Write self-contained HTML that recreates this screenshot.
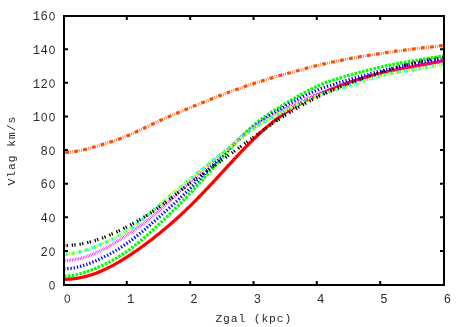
<!DOCTYPE html>
<html><head><meta charset="utf-8"><title>Vlag vs Zgal</title>
<style>
html,body{margin:0;padding:0;background:#fff;}
body{width:467px;height:327px;overflow:hidden;position:relative;font-family:"Liberation Mono",monospace;}
</style></head><body>
<svg width="467" height="327" viewBox="0 0 467 327" style="position:absolute;left:0;top:0;will-change:transform">
<rect width="467" height="327" fill="#fff"/>
<g fill="none" stroke-width="3.2" stroke-linecap="butt" stroke-linejoin="round">
<path d="M64.0 279.3 L66.0 279.3 L68.0 279.2 L70.0 279.1 L72.0 278.9 L74.0 278.7 L76.0 278.4 L78.0 278.1 L80.0 277.7 L82.0 277.3 L84.0 276.9 L86.0 276.4 L88.0 275.8 L90.0 275.2 L92.0 274.6 L94.0 273.9 L96.0 273.2 L98.0 272.4 L100.0 271.6 L102.0 270.7 L104.0 269.8 L106.0 268.9 L108.0 267.9 L110.0 266.9 L112.0 265.9 L114.0 264.8 L116.0 263.7 L118.0 262.5 L120.0 261.3 L122.0 260.1 L124.0 258.9 L126.0 257.7 L128.0 256.4 L130.0 255.1 L132.0 253.7 L134.0 252.4 L136.0 251.0 L138.0 249.6 L140.0 248.2 L142.0 246.8 L144.0 245.3 L146.0 243.8 L148.0 242.3 L150.0 240.8 L152.0 239.3 L154.0 237.7 L156.0 236.1 L158.0 234.5 L160.0 232.9 L162.0 231.2 L164.0 229.6 L166.0 227.9 L168.0 226.2 L170.0 224.5 L172.0 222.7 L174.0 221.0 L176.0 219.2 L178.0 217.4 L180.0 215.6 L182.0 213.7 L184.0 211.8 L186.0 209.9 L188.0 208.0 L190.0 206.1 L192.0 204.1 L194.0 202.1 L196.0 200.1 L198.0 198.0 L200.0 196.0 L202.0 193.9 L204.0 191.8 L206.0 189.7 L208.0 187.6 L210.0 185.4 L212.0 183.3 L214.0 181.1 L216.0 179.0 L218.0 176.8 L220.0 174.6 L222.0 172.5 L224.0 170.3 L226.0 168.1 L228.0 165.9 L230.0 163.8 L232.0 161.6 L234.0 159.4 L236.0 157.3 L238.0 155.2 L240.0 153.0 L242.0 150.9 L244.0 148.8 L246.0 146.8 L248.0 144.8 L250.0 142.7 L252.0 140.8 L254.0 138.8 L256.0 136.9 L258.0 135.0 L260.0 133.1 L262.0 131.3 L264.0 129.5 L266.0 127.8 L268.0 126.1 L270.0 124.4 L272.0 122.7 L274.0 121.1 L276.0 119.6 L278.0 118.1 L280.0 116.6 L282.0 115.1 L284.0 113.7 L286.0 112.4 L288.0 111.1 L290.0 109.8 L292.0 108.6 L294.0 107.4 L296.0 106.2 L298.0 105.1 L300.0 104.0 L302.0 102.9 L304.0 101.8 L306.0 100.8 L308.0 99.8 L310.0 98.9 L312.0 97.9 L314.0 96.9 L316.0 96.0 L318.0 95.1 L320.0 94.2 L322.0 93.3 L324.0 92.4 L326.0 91.5 L328.0 90.7 L330.0 89.8 L332.0 89.0 L334.0 88.2 L336.0 87.4 L338.0 86.6 L340.0 85.8 L342.0 85.0 L344.0 84.3 L346.0 83.6 L348.0 82.8 L350.0 82.2 L352.0 81.5 L354.0 80.8 L356.0 80.2 L358.0 79.6 L360.0 79.0 L362.0 78.4 L364.0 77.8 L366.0 77.2 L368.0 76.7 L370.0 76.1 L372.0 75.6 L374.0 75.1 L376.0 74.6 L378.0 74.1 L380.0 73.6 L382.0 73.1 L384.0 72.6 L386.0 72.1 L388.0 71.7 L390.0 71.2 L392.0 70.8 L394.0 70.3 L396.0 69.9 L398.0 69.5 L400.0 69.1 L402.0 68.6 L404.0 68.2 L406.0 67.8 L408.0 67.4 L410.0 67.1 L412.0 66.7 L414.0 66.3 L416.0 65.9 L418.0 65.5 L420.0 65.2 L422.0 64.8 L424.0 64.4 L426.0 64.1 L428.0 63.7 L430.0 63.4 L432.0 63.0 L434.0 62.7 L436.0 62.3 L438.0 62.0 L440.0 61.7 L442.0 61.3 L444.0 61.0" stroke="#ff0000"/>
<path d="M64.0 276.0 L66.0 276.0 L68.0 275.8 L70.0 275.7 L72.0 275.4 L74.0 275.1 L76.0 274.7 L78.0 274.2 L80.0 273.7 L82.0 273.2 L84.0 272.6 L86.0 271.9 L88.0 271.3 L90.0 270.5 L92.0 269.8 L94.0 269.0 L96.0 268.2 L98.0 267.3 L100.0 266.4 L102.0 265.5 L104.0 264.6 L106.0 263.7 L108.0 262.7 L110.0 261.6 L112.0 260.6 L114.0 259.5 L116.0 258.3 L118.0 257.2 L120.0 255.9 L122.0 254.7 L124.0 253.4 L126.0 252.0 L128.0 250.6 L130.0 249.2 L132.0 247.7 L134.0 246.2 L136.0 244.6 L138.0 243.0 L140.0 241.3 L142.0 239.6 L144.0 237.9 L146.0 236.2 L148.0 234.4 L150.0 232.6 L152.0 230.8 L154.0 229.0 L156.0 227.1 L158.0 225.2 L160.0 223.4 L162.0 221.5 L164.0 219.6 L166.0 217.6 L168.0 215.7 L170.0 213.7 L172.0 211.8 L174.0 209.8 L176.0 207.8 L178.0 205.8 L180.0 203.8 L182.0 201.7 L184.0 199.7 L186.0 197.6 L188.0 195.5 L190.0 193.4 L192.0 191.3 L194.0 189.1 L196.0 187.0 L198.0 184.8 L200.0 182.6 L202.0 180.4 L204.0 178.2 L206.0 176.0 L208.0 173.7 L210.0 171.5 L212.0 169.2 L214.0 167.0 L216.0 164.7 L218.0 162.5 L220.0 160.2 L222.0 158.0 L224.0 155.7 L226.0 153.5 L228.0 151.2 L230.0 149.0 L232.0 146.8 L234.0 144.6 L236.0 142.5 L238.0 140.3 L240.0 138.3 L242.0 136.2 L244.0 134.2 L246.0 132.2 L248.0 130.3 L250.0 128.4 L252.0 126.6 L254.0 124.9 L256.0 123.2 L258.0 121.6 L260.0 120.1 L262.0 118.6 L264.0 117.1 L266.0 115.7 L268.0 114.3 L270.0 113.0 L272.0 111.7 L274.0 110.4 L276.0 109.2 L278.0 108.0 L280.0 106.8 L282.0 105.6 L284.0 104.4 L286.0 103.2 L288.0 102.0 L290.0 100.8 L292.0 99.7 L294.0 98.5 L296.0 97.3 L298.0 96.2 L300.0 95.1 L302.0 93.9 L304.0 92.9 L306.0 91.8 L308.0 90.7 L310.0 89.7 L312.0 88.7 L314.0 87.7 L316.0 86.8 L318.0 85.9 L320.0 85.0 L322.0 84.2 L324.0 83.4 L326.0 82.6 L328.0 81.9 L330.0 81.2 L332.0 80.5 L334.0 79.8 L336.0 79.2 L338.0 78.6 L340.0 77.9 L342.0 77.3 L344.0 76.7 L346.0 76.2 L348.0 75.6 L350.0 75.0 L352.0 74.5 L354.0 73.9 L356.0 73.3 L358.0 72.8 L360.0 72.2 L362.0 71.7 L364.0 71.2 L366.0 70.7 L368.0 70.1 L370.0 69.6 L372.0 69.1 L374.0 68.7 L376.0 68.2 L378.0 67.7 L380.0 67.3 L382.0 66.8 L384.0 66.4 L386.0 65.9 L388.0 65.5 L390.0 65.1 L392.0 64.7 L394.0 64.3 L396.0 63.9 L398.0 63.5 L400.0 63.2 L402.0 62.8 L404.0 62.5 L406.0 62.1 L408.0 61.7 L410.0 61.4 L412.0 61.1 L414.0 60.7 L416.0 60.4 L418.0 60.0 L420.0 59.7 L422.0 59.4 L424.0 59.1 L426.0 58.7 L428.0 58.4 L430.0 58.1 L432.0 57.7 L434.0 57.4 L436.0 57.1 L438.0 56.7 L440.0 56.4 L442.0 56.0 L444.0 55.7" stroke="#00ff00" stroke-dasharray="2.59 1.30"/>
<path d="M64.0 268.8 L66.0 268.8 L68.0 268.6 L70.0 268.4 L72.0 268.2 L74.0 267.9 L76.0 267.5 L78.0 267.0 L80.0 266.5 L82.0 265.9 L84.0 265.3 L86.0 264.7 L88.0 264.0 L90.0 263.2 L92.0 262.4 L94.0 261.6 L96.0 260.8 L98.0 259.9 L100.0 259.0 L102.0 258.0 L104.0 257.0 L106.0 256.0 L108.0 255.0 L110.0 253.9 L112.0 252.8 L114.0 251.7 L116.0 250.5 L118.0 249.3 L120.0 248.0 L122.0 246.7 L124.0 245.4 L126.0 244.0 L128.0 242.6 L130.0 241.2 L132.0 239.7 L134.0 238.2 L136.0 236.6 L138.0 235.0 L140.0 233.4 L142.0 231.8 L144.0 230.1 L146.0 228.4 L148.0 226.7 L150.0 225.0 L152.0 223.2 L154.0 221.5 L156.0 219.7 L158.0 218.0 L160.0 216.2 L162.0 214.4 L164.0 212.7 L166.0 210.9 L168.0 209.1 L170.0 207.3 L172.0 205.5 L174.0 203.7 L176.0 201.9 L178.0 200.0 L180.0 198.1 L182.0 196.3 L184.0 194.4 L186.0 192.5 L188.0 190.5 L190.0 188.6 L192.0 186.6 L194.0 184.6 L196.0 182.5 L198.0 180.5 L200.0 178.4 L202.0 176.4 L204.0 174.3 L206.0 172.2 L208.0 170.1 L210.0 168.1 L212.0 166.0 L214.0 163.9 L216.0 161.8 L218.0 159.8 L220.0 157.8 L222.0 155.7 L224.0 153.7 L226.0 151.8 L228.0 149.8 L230.0 147.9 L232.0 146.0 L234.0 144.1 L236.0 142.2 L238.0 140.4 L240.0 138.6 L242.0 136.8 L244.0 135.1 L246.0 133.4 L248.0 131.7 L250.0 130.1 L252.0 128.5 L254.0 126.9 L256.0 125.4 L258.0 123.9 L260.0 122.4 L262.0 121.0 L264.0 119.5 L266.0 118.2 L268.0 116.8 L270.0 115.5 L272.0 114.2 L274.0 112.9 L276.0 111.7 L278.0 110.4 L280.0 109.2 L282.0 108.0 L284.0 106.9 L286.0 105.7 L288.0 104.6 L290.0 103.4 L292.0 102.3 L294.0 101.2 L296.0 100.2 L298.0 99.1 L300.0 98.1 L302.0 97.1 L304.0 96.1 L306.0 95.1 L308.0 94.2 L310.0 93.3 L312.0 92.4 L314.0 91.5 L316.0 90.6 L318.0 89.8 L320.0 89.0 L322.0 88.3 L324.0 87.5 L326.0 86.8 L328.0 86.1 L330.0 85.5 L332.0 84.8 L334.0 84.2 L336.0 83.5 L338.0 82.9 L340.0 82.3 L342.0 81.7 L344.0 81.1 L346.0 80.6 L348.0 80.0 L350.0 79.4 L352.0 78.8 L354.0 78.3 L356.0 77.7 L358.0 77.1 L360.0 76.6 L362.0 76.0 L364.0 75.5 L366.0 74.9 L368.0 74.4 L370.0 73.9 L372.0 73.3 L374.0 72.8 L376.0 72.3 L378.0 71.8 L380.0 71.3 L382.0 70.8 L384.0 70.3 L386.0 69.8 L388.0 69.3 L390.0 68.9 L392.0 68.4 L394.0 68.0 L396.0 67.5 L398.0 67.1 L400.0 66.6 L402.0 66.2 L404.0 65.8 L406.0 65.4 L408.0 65.0 L410.0 64.6 L412.0 64.3 L414.0 63.9 L416.0 63.5 L418.0 63.2 L420.0 62.8 L422.0 62.5 L424.0 62.2 L426.0 61.9 L428.0 61.6 L430.0 61.3 L432.0 61.0 L434.0 60.7 L436.0 60.4 L438.0 60.1 L440.0 59.9 L442.0 59.6 L444.0 59.4" stroke="#0000ff" stroke-dasharray="1.30 1.95"/>
<path d="M64.0 260.5 L66.0 260.5 L68.0 260.4 L70.0 260.2 L72.0 260.0 L74.0 259.7 L76.0 259.3 L78.0 258.9 L80.0 258.5 L82.0 257.9 L84.0 257.4 L86.0 256.7 L88.0 256.0 L90.0 255.3 L92.0 254.5 L94.0 253.7 L96.0 252.9 L98.0 251.9 L100.0 251.0 L102.0 250.0 L104.0 249.0 L106.0 247.9 L108.0 246.8 L110.0 245.7 L112.0 244.5 L114.0 243.3 L116.0 242.1 L118.0 240.9 L120.0 239.6 L122.0 238.3 L124.0 237.0 L126.0 235.7 L128.0 234.3 L130.0 233.0 L132.0 231.6 L134.0 230.2 L136.0 228.8 L138.0 227.4 L140.0 225.9 L142.0 224.4 L144.0 222.9 L146.0 221.4 L148.0 219.8 L150.0 218.2 L152.0 216.6 L154.0 215.0 L156.0 213.3 L158.0 211.6 L160.0 209.8 L162.0 208.0 L164.0 206.2 L166.0 204.4 L168.0 202.6 L170.0 200.7 L172.0 198.8 L174.0 196.9 L176.0 195.0 L178.0 193.1 L180.0 191.2 L182.0 189.3 L184.0 187.4 L186.0 185.5 L188.0 183.6 L190.0 181.7 L192.0 179.9 L194.0 178.0 L196.0 176.2 L198.0 174.4 L200.0 172.7 L202.0 170.9 L204.0 169.1 L206.0 167.4 L208.0 165.7 L210.0 163.9 L212.0 162.2 L214.0 160.5 L216.0 158.8 L218.0 157.1 L220.0 155.4 L222.0 153.7 L224.0 152.0 L226.0 150.3 L228.0 148.6 L230.0 146.9 L232.0 145.2 L234.0 143.5 L236.0 141.8 L238.0 140.1 L240.0 138.5 L242.0 136.9 L244.0 135.3 L246.0 133.7 L248.0 132.2 L250.0 130.6 L252.0 129.2 L254.0 127.7 L256.0 126.3 L258.0 124.9 L260.0 123.6 L262.0 122.3 L264.0 121.0 L266.0 119.7 L268.0 118.5 L270.0 117.3 L272.0 116.1 L274.0 115.0 L276.0 113.9 L278.0 112.8 L280.0 111.7 L282.0 110.6 L284.0 109.6 L286.0 108.5 L288.0 107.5 L290.0 106.5 L292.0 105.5 L294.0 104.5 L296.0 103.6 L298.0 102.6 L300.0 101.7 L302.0 100.8 L304.0 99.9 L306.0 99.0 L308.0 98.1 L310.0 97.3 L312.0 96.4 L314.0 95.6 L316.0 94.8 L318.0 94.0 L320.0 93.3 L322.0 92.5 L324.0 91.8 L326.0 91.1 L328.0 90.4 L330.0 89.7 L332.0 89.0 L334.0 88.3 L336.0 87.7 L338.0 87.0 L340.0 86.4 L342.0 85.7 L344.0 85.0 L346.0 84.4 L348.0 83.7 L350.0 83.1 L352.0 82.4 L354.0 81.7 L356.0 81.1 L358.0 80.4 L360.0 79.7 L362.0 79.1 L364.0 78.4 L366.0 77.8 L368.0 77.2 L370.0 76.5 L372.0 75.9 L374.0 75.3 L376.0 74.7 L378.0 74.1 L380.0 73.6 L382.0 73.0 L384.0 72.5 L386.0 72.0 L388.0 71.5 L390.0 71.1 L392.0 70.6 L394.0 70.2 L396.0 69.7 L398.0 69.3 L400.0 68.9 L402.0 68.5 L404.0 68.1 L406.0 67.8 L408.0 67.4 L410.0 67.0 L412.0 66.7 L414.0 66.3 L416.0 66.0 L418.0 65.6 L420.0 65.3 L422.0 64.9 L424.0 64.6 L426.0 64.2 L428.0 63.9 L430.0 63.6 L432.0 63.2 L434.0 62.9 L436.0 62.5 L438.0 62.1 L440.0 61.8 L442.0 61.4 L444.0 61.0" stroke="#ff00ff" stroke-dasharray="0.65 0.97"/>
<path d="M64.0 254.2 L66.0 254.2 L68.0 254.0 L70.0 253.8 L72.0 253.6 L74.0 253.2 L76.0 252.9 L78.0 252.4 L80.0 251.9 L82.0 251.4 L84.0 250.8 L86.0 250.1 L88.0 249.5 L90.0 248.7 L92.0 248.0 L94.0 247.2 L96.0 246.5 L98.0 245.7 L100.0 244.9 L102.0 244.0 L104.0 243.1 L106.0 242.3 L108.0 241.3 L110.0 240.4 L112.0 239.4 L114.0 238.4 L116.0 237.3 L118.0 236.3 L120.0 235.1 L122.0 233.9 L124.0 232.7 L126.0 231.5 L128.0 230.2 L130.0 228.8 L132.0 227.4 L134.0 225.9 L136.0 224.5 L138.0 222.9 L140.0 221.4 L142.0 219.8 L144.0 218.2 L146.0 216.5 L148.0 214.9 L150.0 213.2 L152.0 211.5 L154.0 209.8 L156.0 208.1 L158.0 206.4 L160.0 204.6 L162.0 202.9 L164.0 201.2 L166.0 199.5 L168.0 197.8 L170.0 196.0 L172.0 194.3 L174.0 192.6 L176.0 190.9 L178.0 189.2 L180.0 187.5 L182.0 185.8 L184.0 184.1 L186.0 182.5 L188.0 180.8 L190.0 179.1 L192.0 177.5 L194.0 175.9 L196.0 174.2 L198.0 172.6 L200.0 171.0 L202.0 169.4 L204.0 167.8 L206.0 166.2 L208.0 164.6 L210.0 163.0 L212.0 161.4 L214.0 159.8 L216.0 158.2 L218.0 156.6 L220.0 155.0 L222.0 153.4 L224.0 151.7 L226.0 150.1 L228.0 148.5 L230.0 146.8 L232.0 145.2 L234.0 143.6 L236.0 142.0 L238.0 140.4 L240.0 138.8 L242.0 137.2 L244.0 135.7 L246.0 134.2 L248.0 132.7 L250.0 131.2 L252.0 129.8 L254.0 128.4 L256.0 127.1 L258.0 125.7 L260.0 124.5 L262.0 123.2 L264.0 122.0 L266.0 120.9 L268.0 119.7 L270.0 118.6 L272.0 117.5 L274.0 116.4 L276.0 115.4 L278.0 114.3 L280.0 113.3 L282.0 112.3 L284.0 111.2 L286.0 110.2 L288.0 109.2 L290.0 108.2 L292.0 107.2 L294.0 106.3 L296.0 105.3 L298.0 104.3 L300.0 103.4 L302.0 102.5 L304.0 101.6 L306.0 100.7 L308.0 99.8 L310.0 98.9 L312.0 98.1 L314.0 97.3 L316.0 96.5 L318.0 95.7 L320.0 95.0 L322.0 94.3 L324.0 93.6 L326.0 92.9 L328.0 92.3 L330.0 91.7 L332.0 91.0 L334.0 90.4 L336.0 89.8 L338.0 89.2 L340.0 88.6 L342.0 88.0 L344.0 87.4 L346.0 86.7 L348.0 86.1 L350.0 85.5 L352.0 84.8 L354.0 84.2 L356.0 83.5 L358.0 82.9 L360.0 82.2 L362.0 81.5 L364.0 80.9 L366.0 80.2 L368.0 79.6 L370.0 79.0 L372.0 78.4 L374.0 77.8 L376.0 77.2 L378.0 76.6 L380.0 76.1 L382.0 75.6 L384.0 75.1 L386.0 74.6 L388.0 74.2 L390.0 73.8 L392.0 73.4 L394.0 73.0 L396.0 72.6 L398.0 72.2 L400.0 71.9 L402.0 71.6 L404.0 71.2 L406.0 70.9 L408.0 70.6 L410.0 70.3 L412.0 70.0 L414.0 69.6 L416.0 69.3 L418.0 69.0 L420.0 68.7 L422.0 68.3 L424.0 68.0 L426.0 67.6 L428.0 67.3 L430.0 66.9 L432.0 66.5 L434.0 66.0 L436.0 65.6 L438.0 65.1 L440.0 64.7 L442.0 64.1 L444.0 63.6" stroke="#00ffff" stroke-dasharray="3.89 1.30 0.65 1.30"/>
<path d="M64.0 254.2 L66.0 254.2 L68.0 254.0 L70.0 253.8 L72.0 253.6 L74.0 253.2 L76.0 252.9 L78.0 252.4 L80.0 251.9 L82.0 251.4 L84.0 250.8 L86.0 250.1 L88.0 249.5 L90.0 248.7 L92.0 248.0 L94.0 247.2 L96.0 246.5 L98.0 245.7 L100.0 244.9 L102.0 244.0 L104.0 243.1 L106.0 242.3 L108.0 241.3 L110.0 240.4 L112.0 239.4 L114.0 238.4 L116.0 237.3 L118.0 236.3 L120.0 235.1 L122.0 233.9 L124.0 232.7 L126.0 231.5 L128.0 230.2 L130.0 228.8 L132.0 227.4 L134.0 225.9 L136.0 224.5 L138.0 222.9 L140.0 221.4 L142.0 219.8 L144.0 218.2 L146.0 216.5 L148.0 214.9 L150.0 213.2 L152.0 211.5 L154.0 209.8 L156.0 208.1 L158.0 206.4 L160.0 204.6 L162.0 202.9 L164.0 201.2 L166.0 199.5 L168.0 197.8 L170.0 196.0 L172.0 194.3 L174.0 192.6 L176.0 190.9 L178.0 189.2 L180.0 187.5 L182.0 185.8 L184.0 184.1 L186.0 182.5 L188.0 180.8 L190.0 179.1 L192.0 177.5 L194.0 175.9 L196.0 174.2 L198.0 172.6 L200.0 171.0 L202.0 169.4 L204.0 167.8 L206.0 166.2 L208.0 164.6 L210.0 163.0 L212.0 161.4 L214.0 159.8 L216.0 158.2 L218.0 156.6 L220.0 155.0 L222.0 153.4 L224.0 151.7 L226.0 150.1 L228.0 148.5 L230.0 146.8 L232.0 145.2 L234.0 143.6 L236.0 142.0 L238.0 140.4 L240.0 138.8 L242.0 137.2 L244.0 135.7 L246.0 134.2 L248.0 132.7 L250.0 131.2 L252.0 129.8 L254.0 128.4 L256.0 127.1 L258.0 125.7 L260.0 124.5 L262.0 123.2 L264.0 122.0 L266.0 120.9 L268.0 119.7 L270.0 118.6 L272.0 117.5 L274.0 116.4 L276.0 115.4 L278.0 114.3 L280.0 113.3 L282.0 112.3 L284.0 111.2 L286.0 110.2 L288.0 109.2 L290.0 108.2 L292.0 107.2 L294.0 106.3 L296.0 105.3 L298.0 104.3 L300.0 103.4 L302.0 102.5 L304.0 101.6 L306.0 100.7 L308.0 99.8 L310.0 98.9 L312.0 98.1 L314.0 97.3 L316.0 96.5 L318.0 95.7 L320.0 95.0 L322.0 94.3 L324.0 93.6 L326.0 92.9 L328.0 92.3 L330.0 91.7 L332.0 91.0 L334.0 90.4 L336.0 89.8 L338.0 89.2 L340.0 88.6 L342.0 88.0 L344.0 87.4 L346.0 86.7 L348.0 86.1 L350.0 85.5 L352.0 84.8 L354.0 84.2 L356.0 83.5 L358.0 82.9 L360.0 82.2 L362.0 81.5 L364.0 80.9 L366.0 80.2 L368.0 79.6 L370.0 79.0 L372.0 78.4 L374.0 77.8 L376.0 77.2 L378.0 76.6 L380.0 76.1 L382.0 75.6 L384.0 75.1 L386.0 74.6 L388.0 74.2 L390.0 73.8 L392.0 73.4 L394.0 73.0 L396.0 72.6 L398.0 72.2 L400.0 71.9 L402.0 71.6 L404.0 71.2 L406.0 70.9 L408.0 70.6 L410.0 70.3 L412.0 70.0 L414.0 69.6 L416.0 69.3 L418.0 69.0 L420.0 68.7 L422.0 68.3 L424.0 68.0 L426.0 67.6 L428.0 67.3 L430.0 66.9 L432.0 66.5 L434.0 66.0 L436.0 65.6 L438.0 65.1 L440.0 64.7 L442.0 64.1 L444.0 63.6" stroke="#ffff00" stroke-dasharray="1.95 1.95 0.65 1.95"/>
<path d="M64.0 245.6 L66.0 245.6 L68.0 245.5 L70.0 245.4 L72.0 245.2 L74.0 245.0 L76.0 244.8 L78.0 244.5 L80.0 244.2 L82.0 243.8 L84.0 243.4 L86.0 243.0 L88.0 242.5 L90.0 242.0 L92.0 241.4 L94.0 240.8 L96.0 240.2 L98.0 239.5 L100.0 238.8 L102.0 238.1 L104.0 237.4 L106.0 236.6 L108.0 235.8 L110.0 234.9 L112.0 234.0 L114.0 233.2 L116.0 232.2 L118.0 231.3 L120.0 230.3 L122.0 229.3 L124.0 228.3 L126.0 227.3 L128.0 226.2 L130.0 225.2 L132.0 224.1 L134.0 223.0 L136.0 221.9 L138.0 220.7 L140.0 219.6 L142.0 218.4 L144.0 217.1 L146.0 215.9 L148.0 214.6 L150.0 213.3 L152.0 212.0 L154.0 210.7 L156.0 209.3 L158.0 207.9 L160.0 206.5 L162.0 205.0 L164.0 203.5 L166.0 202.0 L168.0 200.5 L170.0 199.0 L172.0 197.4 L174.0 195.8 L176.0 194.3 L178.0 192.7 L180.0 191.1 L182.0 189.5 L184.0 188.0 L186.0 186.4 L188.0 184.8 L190.0 183.3 L192.0 181.8 L194.0 180.3 L196.0 178.8 L198.0 177.3 L200.0 175.9 L202.0 174.4 L204.0 173.0 L206.0 171.5 L208.0 170.1 L210.0 168.7 L212.0 167.3 L214.0 165.8 L216.0 164.4 L218.0 163.0 L220.0 161.6 L222.0 160.1 L224.0 158.7 L226.0 157.3 L228.0 155.8 L230.0 154.4 L232.0 152.9 L234.0 151.4 L236.0 150.0 L238.0 148.5 L240.0 147.0 L242.0 145.6 L244.0 144.1 L246.0 142.6 L248.0 141.2 L250.0 139.7 L252.0 138.3 L254.0 136.8 L256.0 135.4 L258.0 133.9 L260.0 132.5 L262.0 131.0 L264.0 129.6 L266.0 128.2 L268.0 126.8 L270.0 125.4 L272.0 124.0 L274.0 122.7 L276.0 121.3 L278.0 120.0 L280.0 118.7 L282.0 117.4 L284.0 116.1 L286.0 114.8 L288.0 113.5 L290.0 112.3 L292.0 111.1 L294.0 109.9 L296.0 108.7 L298.0 107.5 L300.0 106.4 L302.0 105.2 L304.0 104.1 L306.0 103.0 L308.0 101.9 L310.0 100.9 L312.0 99.8 L314.0 98.8 L316.0 97.8 L318.0 96.8 L320.0 95.8 L322.0 94.8 L324.0 93.9 L326.0 93.0 L328.0 92.0 L330.0 91.1 L332.0 90.3 L334.0 89.4 L336.0 88.5 L338.0 87.7 L340.0 86.9 L342.0 86.1 L344.0 85.3 L346.0 84.5 L348.0 83.7 L350.0 82.9 L352.0 82.2 L354.0 81.4 L356.0 80.7 L358.0 80.0 L360.0 79.2 L362.0 78.5 L364.0 77.8 L366.0 77.1 L368.0 76.5 L370.0 75.8 L372.0 75.1 L374.0 74.5 L376.0 73.8 L378.0 73.2 L380.0 72.5 L382.0 71.9 L384.0 71.3 L386.0 70.6 L388.0 70.0 L390.0 69.4 L392.0 68.8 L394.0 68.2 L396.0 67.6 L398.0 67.1 L400.0 66.5 L402.0 66.0 L404.0 65.4 L406.0 64.9 L408.0 64.4 L410.0 63.9 L412.0 63.4 L414.0 62.9 L416.0 62.4 L418.0 62.0 L420.0 61.6 L422.0 61.1 L424.0 60.7 L426.0 60.4 L428.0 60.0 L430.0 59.6 L432.0 59.3 L434.0 59.0 L436.0 58.7 L438.0 58.4 L440.0 58.2 L442.0 57.9 L444.0 57.7" stroke="#000000" stroke-dasharray="1.30 1.30 1.30 3.89"/>
<path d="M64.0 152.4 L66.0 152.4 L68.0 152.3 L70.0 152.1 L72.0 151.9 L74.0 151.6 L76.0 151.3 L78.0 150.9 L80.0 150.6 L82.0 150.1 L84.0 149.7 L86.0 149.2 L88.0 148.6 L90.0 148.1 L92.0 147.5 L94.0 147.0 L96.0 146.4 L98.0 145.8 L100.0 145.2 L102.0 144.6 L104.0 144.0 L106.0 143.4 L108.0 142.8 L110.0 142.1 L112.0 141.5 L114.0 140.8 L116.0 140.1 L118.0 139.4 L120.0 138.7 L122.0 137.9 L124.0 137.1 L126.0 136.3 L128.0 135.5 L130.0 134.7 L132.0 133.8 L134.0 132.9 L136.0 132.0 L138.0 131.0 L140.0 130.1 L142.0 129.1 L144.0 128.2 L146.0 127.2 L148.0 126.3 L150.0 125.3 L152.0 124.3 L154.0 123.4 L156.0 122.4 L158.0 121.5 L160.0 120.5 L162.0 119.6 L164.0 118.7 L166.0 117.8 L168.0 117.0 L170.0 116.1 L172.0 115.2 L174.0 114.4 L176.0 113.5 L178.0 112.7 L180.0 111.9 L182.0 111.1 L184.0 110.2 L186.0 109.4 L188.0 108.6 L190.0 107.8 L192.0 107.0 L194.0 106.1 L196.0 105.3 L198.0 104.5 L200.0 103.7 L202.0 102.8 L204.0 102.0 L206.0 101.2 L208.0 100.4 L210.0 99.6 L212.0 98.8 L214.0 98.0 L216.0 97.2 L218.0 96.4 L220.0 95.6 L222.0 94.8 L224.0 94.1 L226.0 93.3 L228.0 92.5 L230.0 91.8 L232.0 91.0 L234.0 90.3 L236.0 89.6 L238.0 88.9 L240.0 88.2 L242.0 87.5 L244.0 86.8 L246.0 86.1 L248.0 85.4 L250.0 84.7 L252.0 84.1 L254.0 83.4 L256.0 82.8 L258.0 82.1 L260.0 81.5 L262.0 80.9 L264.0 80.2 L266.0 79.6 L268.0 79.0 L270.0 78.4 L272.0 77.8 L274.0 77.2 L276.0 76.7 L278.0 76.1 L280.0 75.5 L282.0 74.9 L284.0 74.4 L286.0 73.8 L288.0 73.2 L290.0 72.7 L292.0 72.1 L294.0 71.6 L296.0 71.0 L298.0 70.5 L300.0 69.9 L302.0 69.4 L304.0 68.9 L306.0 68.4 L308.0 67.8 L310.0 67.3 L312.0 66.8 L314.0 66.3 L316.0 65.8 L318.0 65.3 L320.0 64.9 L322.0 64.4 L324.0 63.9 L326.0 63.5 L328.0 63.0 L330.0 62.6 L332.0 62.1 L334.0 61.7 L336.0 61.3 L338.0 60.9 L340.0 60.5 L342.0 60.1 L344.0 59.7 L346.0 59.3 L348.0 58.9 L350.0 58.5 L352.0 58.1 L354.0 57.8 L356.0 57.4 L358.0 57.1 L360.0 56.7 L362.0 56.4 L364.0 56.0 L366.0 55.7 L368.0 55.4 L370.0 55.0 L372.0 54.7 L374.0 54.4 L376.0 54.1 L378.0 53.8 L380.0 53.5 L382.0 53.2 L384.0 52.9 L386.0 52.6 L388.0 52.3 L390.0 52.0 L392.0 51.8 L394.0 51.5 L396.0 51.2 L398.0 51.0 L400.0 50.7 L402.0 50.4 L404.0 50.2 L406.0 49.9 L408.0 49.6 L410.0 49.4 L412.0 49.1 L414.0 48.9 L416.0 48.6 L418.0 48.4 L420.0 48.2 L422.0 47.9 L424.0 47.7 L426.0 47.5 L428.0 47.2 L430.0 47.0 L432.0 46.8 L434.0 46.5 L436.0 46.3 L438.0 46.1 L440.0 45.8 L442.0 45.6 L444.0 45.4" stroke="#ff4d00" stroke-dasharray="0.65 1.30 3.89 1.30 0.65 1.30" stroke-dashoffset="0.75"/>
</g>
<g fill="none" stroke="#000" stroke-width="2">
<rect x="64" y="16" width="380" height="269"/>
<path d="M126.8 285V281 M126.8 16V20 M190.2 285V281 M190.2 16V20 M253.5 285V281 M253.5 16V20 M316.8 285V281 M316.8 16V20 M380.2 285V281 M380.2 16V20 M64 251.0H68 M444 251.0H440 M64 217.3H68 M444 217.3H440 M64 183.7H68 M444 183.7H440 M64 150.1H68 M444 150.1H440 M64 116.5H68 M444 116.5H440 M64 82.8H68 M444 82.8H440 M64 49.2H68 M444 49.2H440"/>
</g>
<g font-family="'Liberation Mono', monospace" font-size="12.2px" fill="#2a2a2a">
<ellipse cx="52.00" cy="285.30" rx="2.4" ry="3.95" fill="none" stroke="#2a2a2a" stroke-width="1"/>
<text x="44.22" y="255.68" text-anchor="middle">2</text>
<ellipse cx="52.00" cy="251.68" rx="2.4" ry="3.95" fill="none" stroke="#2a2a2a" stroke-width="1"/>
<text x="44.22" y="222.05" text-anchor="middle">4</text>
<ellipse cx="52.00" cy="218.05" rx="2.4" ry="3.95" fill="none" stroke="#2a2a2a" stroke-width="1"/>
<text x="44.22" y="188.43" text-anchor="middle">6</text>
<ellipse cx="52.00" cy="184.43" rx="2.4" ry="3.95" fill="none" stroke="#2a2a2a" stroke-width="1"/>
<text x="44.22" y="154.80" text-anchor="middle">8</text>
<ellipse cx="52.00" cy="150.80" rx="2.4" ry="3.95" fill="none" stroke="#2a2a2a" stroke-width="1"/>
<text x="36.44" y="121.17" text-anchor="middle">1</text>
<ellipse cx="44.22" cy="117.17" rx="2.4" ry="3.95" fill="none" stroke="#2a2a2a" stroke-width="1"/>
<ellipse cx="52.00" cy="117.17" rx="2.4" ry="3.95" fill="none" stroke="#2a2a2a" stroke-width="1"/>
<text x="36.44" y="87.55" text-anchor="middle">1</text>
<text x="44.22" y="87.55" text-anchor="middle">2</text>
<ellipse cx="52.00" cy="83.55" rx="2.4" ry="3.95" fill="none" stroke="#2a2a2a" stroke-width="1"/>
<text x="36.44" y="53.92" text-anchor="middle">1</text>
<text x="44.22" y="53.92" text-anchor="middle">4</text>
<ellipse cx="52.00" cy="49.92" rx="2.4" ry="3.95" fill="none" stroke="#2a2a2a" stroke-width="1"/>
<text x="36.44" y="20.30" text-anchor="middle">1</text>
<text x="44.22" y="20.30" text-anchor="middle">6</text>
<ellipse cx="52.00" cy="16.30" rx="2.4" ry="3.95" fill="none" stroke="#2a2a2a" stroke-width="1"/>
<ellipse cx="67.30" cy="298.60" rx="2.4" ry="3.95" fill="none" stroke="#2a2a2a" stroke-width="1"/>
<text x="130.63" y="302.60" text-anchor="middle">1</text>
<text x="193.97" y="302.60" text-anchor="middle">2</text>
<text x="257.30" y="302.60" text-anchor="middle">3</text>
<text x="320.63" y="302.60" text-anchor="middle">4</text>
<text x="383.97" y="302.60" text-anchor="middle">5</text>
<text x="447.30" y="302.60" text-anchor="middle">6</text>
<text x="215.4" y="321.8" font-size="11.4px" letter-spacing="0.84">Zgal (kpc)</text>
<text transform="translate(15 150.6) rotate(-90)" text-anchor="middle" font-size="11.4px" letter-spacing="0.94">Vlag km/s</text>
</g>
</svg>
</body></html>
